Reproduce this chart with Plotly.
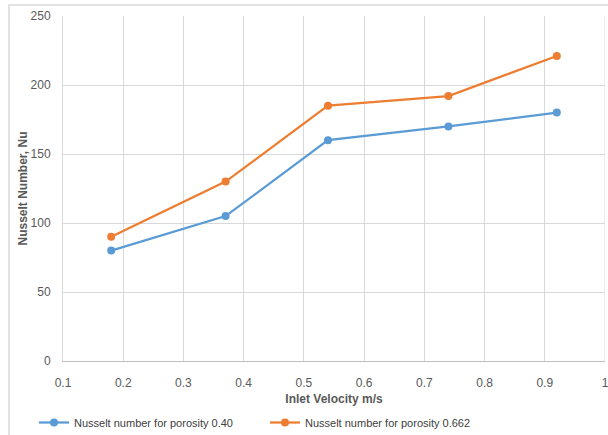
import plotly.graph_objects as go

# Inlet velocity (m/s) and Nusselt number for two porosities
velocity = [0.18, 0.37, 0.54, 0.74, 0.92]
nu_porosity_040 = [80, 105, 160, 170, 180]
nu_porosity_0662 = [90, 130, 185, 192, 221]

series_names = ["Nusselt number for porosity 0.40", "Nusselt number for porosity 0.662"]
series_colors = ["#5B9BD5", "#ED7D31"]

x_ticks = [0.1, 0.2, 0.3, 0.4, 0.5, 0.6, 0.7, 0.8, 0.9, 1]
x_tick_text = ["0.1", "0.2", "0.3", "0.4", "0.5", "0.6", "0.7", "0.8", "0.9", "1"]
y_ticks = [0, 50, 100, 150, 200, 250]

FONT = "Liberation Sans, Arial, sans-serif"
TEXT = "#595959"
GRID = "#D9D9D9"

fig = go.Figure()
for name, ys, color in zip(series_names, [nu_porosity_040, nu_porosity_0662], series_colors):
    fig.add_trace(go.Scatter(
        x=velocity, y=ys, name=name, mode="lines+markers",
        line=dict(color=color, width=2.25),
        marker=dict(color=color, size=8),
    ))

W, H = 608, 435
ml, mr, mt, mb = 63, 3, 16, 74
pw, ph = W - ml - mr, H - mt - mb

def px_x(p):
    return (p - ml) / pw

def px_y(p):
    return (H - mb - p) / ph

fig.update_layout(
    width=W, height=H,
    margin=dict(l=ml, r=mr, t=mt, b=mb, autoexpand=False),
    paper_bgcolor="white", plot_bgcolor="white",
    font=dict(family=FONT, size=12, color=TEXT),
    showlegend=True,
    legend=dict(
        orientation="h", x=px_x(34), y=px_y(408), xanchor="left", yanchor="top",
        font=dict(family=FONT, size=11, color="#404040"),
        itemwidth=30, traceorder="normal", entrywidth=186,
    ),
    xaxis=dict(
        range=[0.1, 1], tickvals=x_ticks, ticktext=x_tick_text,
        showgrid=True, gridcolor=GRID, gridwidth=1,
        zeroline=False, showline=True, linecolor="#BFBFBF", linewidth=1,
        ticks="", tickfont=dict(size=12, color=TEXT),
        ticklabelstandoff=11, ticklabeloverflow="allow", automargin=False,
        title=dict(text="<b>Inlet Velocity m/s</b>", font=dict(size=12, color=TEXT), standoff=5),
    ),
    yaxis=dict(
        range=[0, 250], tickvals=y_ticks,
        showgrid=True, gridcolor=GRID, gridwidth=1,
        zeroline=False, showline=True, linecolor=GRID, linewidth=1,
        ticks="", tickfont=dict(size=12, color=TEXT),
        ticklabelstandoff=9, automargin=False,
        title=dict(text="<b>Nusselt Number, Nu</b>", font=dict(size=12, color=TEXT), standoff=0),
    ),
)

# Right-hand boundary gridline at x = 1
fig.add_shape(type="line", xref="x", yref="paper", x0=1, x1=1, y0=0, y1=1,
              line=dict(color=GRID, width=1))

# Chart frame
fig.add_shape(type="rect", xref="paper", yref="paper",
              x0=px_x(9), x1=px_x(620), y0=px_y(450), y1=px_y(5),
              line=dict(color="#D9D9D9", width=1.5), fillcolor="rgba(0,0,0,0)", layer="below")

fig.write_html("out.html")
